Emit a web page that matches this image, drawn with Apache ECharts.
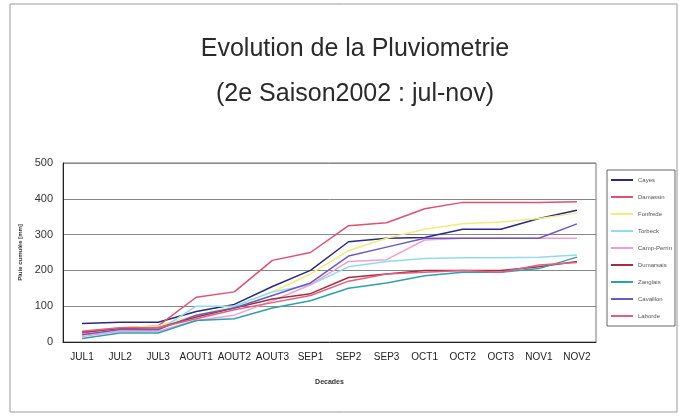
<!DOCTYPE html>
<html>
<head>
<meta charset="utf-8">
<script src="https://cdn.jsdelivr.net/npm/echarts@6/dist/echarts.min.js"></script>
<style>
  html, body { margin: 0; padding: 0; background: #fff; }
  #chart { width: 679px; height: 417px; }
</style>
</head>
<body>
<div id="chart"></div>
<script>
// decades of the season
const decades = ['JUL1', 'JUL2', 'JUL3', 'AOUT1', 'AOUT2', 'AOUT3', 'SEP1', 'SEP2', 'SEP3', 'OCT1', 'OCT2', 'OCT3', 'NOV1', 'NOV2']
const stations = ['Cayes', 'Damassin', 'Fonfrede', 'Torbeck', 'Camp-Perrin', 'Dumarsais', 'Zanglais', 'Cavaillon', 'Laborde']
const cayes = [52, 55, 55, 85, 105, 155, 200, 280, 290, 292, 315, 315, 345, 368]
const damassin = [25, 40, 45, 125, 140, 228, 250, 325, 333, 372, 390, 390, 390, 392]
const fonfrede = [30, 40, 45, 75, 100, 140, 190, 255, 290, 315, 330, 335, 345, 360]
const torbeck = [20, 30, 32, 100, 100, 140, 160, 210, 225, 233, 235, 235, 237, 243]
const campPerrin = [15, 30, 30, 60, 75, 115, 160, 225, 230, 285, 290, 290, 290, 290]
const dumarsais = [28, 38, 40, 70, 95, 120, 135, 180, 190, 200, 200, 200, 210, 225]
const zanglais = [10, 25, 25, 60, 65, 95, 115, 150, 165, 185, 195, 195, 205, 237]
const cavaillon = [20, 35, 35, 75, 95, 130, 165, 240, 265, 290, 290, 290, 290, 330]
const laborde = [30, 40, 40, 65, 90, 110, 130, 170, 190, 195, 200, 195, 215, 222]
const allValues = [cayes, damassin, fonfrede, torbeck, campPerrin, dumarsais, zanglais, cavaillon, laborde]
const colors = ['#2a2a80', '#e05070', '#f0ec80', '#8fdcef', '#f0a0d0', '#a03040', '#30a0b0', '#6a5ac0', '#e06080']

const myChart = echarts.init(document.getElementById('chart'))
myChart.setOption({
  animation: false,
  color: colors,
  title: {
    text: 'Evolution de la Pluviometrie\n(2e Saison2002 : jul-nov)',
    left: 350,
    textAlign: 'center',
    top: 22,
    textStyle: { fontFamily: 'Liberation Sans', fontSize: 25, fontWeight: 'normal', color: '#2a2a2a', lineHeight: 45 }
  },
  graphic: [{
    type: 'rect',
    shape: { x: 10, y: 4, width: 667, height: 408 },
    style: { fill: null, stroke: '#999', lineWidth: 1 }
  }],
  legend: {
    orient: 'vertical',
    left: 607,
    top: 170,
    width: 70,
    itemWidth: 22,
    itemHeight: 2,
    itemGap: 11,
    padding: [7, 3, 7, 4],
    borderColor: '#666',
    borderWidth: 1,
    icon: 'rect',
    textStyle: { fontSize: 6, color: '#555', fontFamily: 'Liberation Sans' },
    data: stations
  },
  grid: { left: 63, right: 83, top: 163, bottom: 75, show: true, borderColor: '#777', borderWidth: 1, backgroundColor: '#fff' },
  xAxis: {
    type: 'category',
    data: decades,
    name: 'Decades',
    nameLocation: 'middle',
    nameGap: 37,
    nameTextStyle: { fontSize: 7, color: '#333', fontWeight: 'bold' },
    axisLine: { lineStyle: { color: '#222' } },
    axisTick: { lineStyle: { color: '#222' } },
    axisLabel: { fontSize: 10, color: '#222', fontFamily: 'Liberation Sans', margin: 10, interval: 0 }
  },
  yAxis: {
    type: 'value',
    min: 0,
    max: 500,
    interval: 100,
    name: 'Pluie cumulée [mm]',
    nameLocation: 'middle',
    nameGap: 28,
    nameRotate: 90,
    nameTextStyle: { fontSize: 6, color: '#333', fontWeight: 'bold' },
    axisLine: { show: true, lineStyle: { color: '#222' } },
    axisTick: { show: false },
    axisLabel: { fontSize: 11, color: '#333', margin: 10 },
    splitLine: { lineStyle: { color: '#888', width: 1 } }
  },
  series: stations.map((name, i) => ({
    name: name,
    type: 'line',
    data: allValues[i],
    showSymbol: false,
    lineStyle: { width: 1.5 }
  }))
})
</script>
</body>
</html>
